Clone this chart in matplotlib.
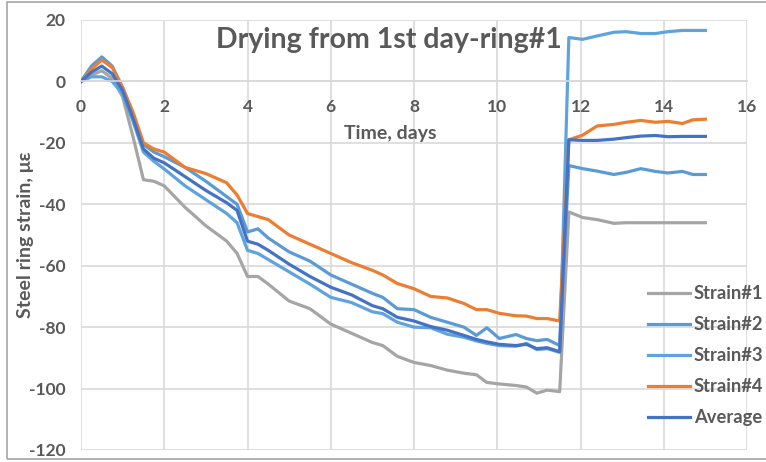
import matplotlib
matplotlib.use("Agg")
import matplotlib.pyplot as plt
from matplotlib.patches import Rectangle

# time axis, days (shared by all series)
t = [0, 0.25, 0.5, 0.75, 1, 1.25, 1.5, 1.75, 2, 2.5,
     3, 3.5, 3.75, 4, 4.25, 4.5, 5, 5.5, 6, 6.5,
     7, 7.25, 7.6, 8, 8.4, 8.8, 9.2, 9.5, 9.75, 10.05,
     10.45, 10.7, 10.95, 11.2, 11.5, 11.72, 12.05, 12.4, 12.8, 13.1,
     13.45, 13.8, 14.1, 14.45, 14.7, 15]

strain1 = [0, 2, 3.5, 1, -5, -18, -32, -32.5, -34, -41,
           -47, -52, -56, -63.5, -63.5, -66, -71.5, -74, -79, -82,
           -85, -86, -89.5, -91.5, -92.5, -94, -95, -95.5, -98, -98.5,
           -99, -99.5, -101.5, -100.5, -101, -42.5, -44.3, -45, -46.2, -46,
           -46, -46, -46, -46, -46, -46]
strain2 = [0, 5, 8, 5, -2, -11, -20.5, -23, -24.5, -28,
           -32.5, -37.5, -40, -49, -48, -51, -55.5, -58.5, -63, -66,
           -69, -70.3, -74, -74.3, -76.8, -78.4, -80, -82.7, -80.2, -83.7,
           -82.4, -83.7, -84.4, -84, -86, -27.4, -28.4, -29.2, -30.3, -29.6,
           -28.4, -29.3, -29.8, -29.3, -30.3, -30.3]
strain3 = [0, 1.5, 1.5, 0, -4, -13, -23, -26, -28.5, -34,
           -38.5, -43, -46, -55, -56, -58, -62, -66, -70.3, -72,
           -75, -75.6, -78.4, -80, -80.2, -82.3, -83.3, -84.5, -85.3, -86,
           -86.2, -85.3, -87.3, -87, -88.2, 14.3, 13.7, 14.8, 16.0, 16.2,
           15.6, 15.6, 16.2, 16.6, 16.6, 16.6]
strain4 = [0, 4, 7, 4.5, -2, -10, -20, -22, -23, -28,
           -30, -33, -37, -43, -44, -45, -50, -53, -56, -59,
           -61.5, -63, -65.8, -67.5, -70, -70.5, -72.3, -74.3, -74.3, -75.5,
           -76.3, -76.4, -77.2, -77.2, -78, -19, -17.5, -14.5, -14, -13.3,
           -12.7, -13.3, -13, -13.7, -12.5, -12.3]
average = [0, 3, 5, 2.5, -3, -12, -22, -25, -26.5, -31,
           -35.5, -39.5, -42, -52, -53, -55, -59.5, -63.5, -67, -69.5,
           -73, -74, -76.8, -78, -79.8, -81, -82.7, -84, -84.8, -85.6,
           -86, -85.6, -87, -86.7, -88, -19, -19.2, -19.2, -18.8, -18.3,
           -17.8, -17.6, -18, -17.9, -17.9, -17.9]

series = [("Strain#1", strain1, "#A5A5A5"),
          ("Strain#2", strain2, "#5B9BD5"),
          ("Strain#3", strain3, "#5FA3DE"),
          ("Strain#4", strain4, "#ED7D31"),
          ("Average", average, "#4472C4")]

txt = "#595959"
plt.rcParams['font.family'] = ['Lato', 'DejaVu Sans']
plt.rcParams['axes.unicode_minus'] = False

fig = plt.figure(figsize=(7.66, 4.62), dpi=100)
ax = fig.add_axes([81/766, 1-450/462, 666/766, 430/462])

for name, vals, col in series:
    ax.plot(t, vals, color=col, lw=2.3, label=name, solid_joinstyle='round')

ax.set_xlim(0, 16)
ax.set_ylim(-120, 20)
ax.set_xticks(range(0, 17, 2))
ax.set_yticks(range(-120, 21, 20))
ax.grid(True, color="#D9D9D9", lw=1.2)
ax.set_axisbelow(True)
for s in ["top", "right", "left"]:
    ax.spines[s].set_visible(False)
ax.spines["bottom"].set_position(("data", 0))
ax.spines["bottom"].set_color("#D9D9D9")
ax.spines["bottom"].set_linewidth(1.2)
ax.tick_params(axis="both", length=0, labelsize=12.5, labelcolor=txt)
ax.tick_params(axis="x", pad=13)
ax.tick_params(axis="y", pad=11)
for lab in ax.get_xticklabels() + ax.get_yticklabels():
    lab.set_fontweight("bold")

fig.text(389/766, 1-40/462, "Drying from 1st day-ring#1", ha="center", va="center",
         fontsize=20.5, fontweight="bold", color=txt)
fig.text(390/766, 1-133/462, "Time, days", ha="center", va="center",
         fontsize=14, fontweight="bold", color=txt)
fig.text(25/766, 1-235/462, "Steel ring strain, \u03bc\u03b5", ha="center", va="center",
         rotation=90, fontsize=14, fontweight="bold", color=txt)

leg = ax.legend(loc="upper left", bbox_to_anchor=(648/766, 1-285/462),
                bbox_transform=fig.transFigure, frameon=False,
                fontsize=13.2, handlelength=2.3, handletextpad=0.2,
                labelspacing=0.77, borderpad=0, borderaxespad=0)
for tx in leg.get_texts():
    tx.set_color(txt)
    tx.set_fontweight("bold")

fig.patches.append(Rectangle((7/766, 3/462), 780/766, 457/462, transform=fig.transFigure,
                             fill=False, edgecolor="#A6A6A6", lw=1.2))

fig.savefig("out.png", dpi=100)
